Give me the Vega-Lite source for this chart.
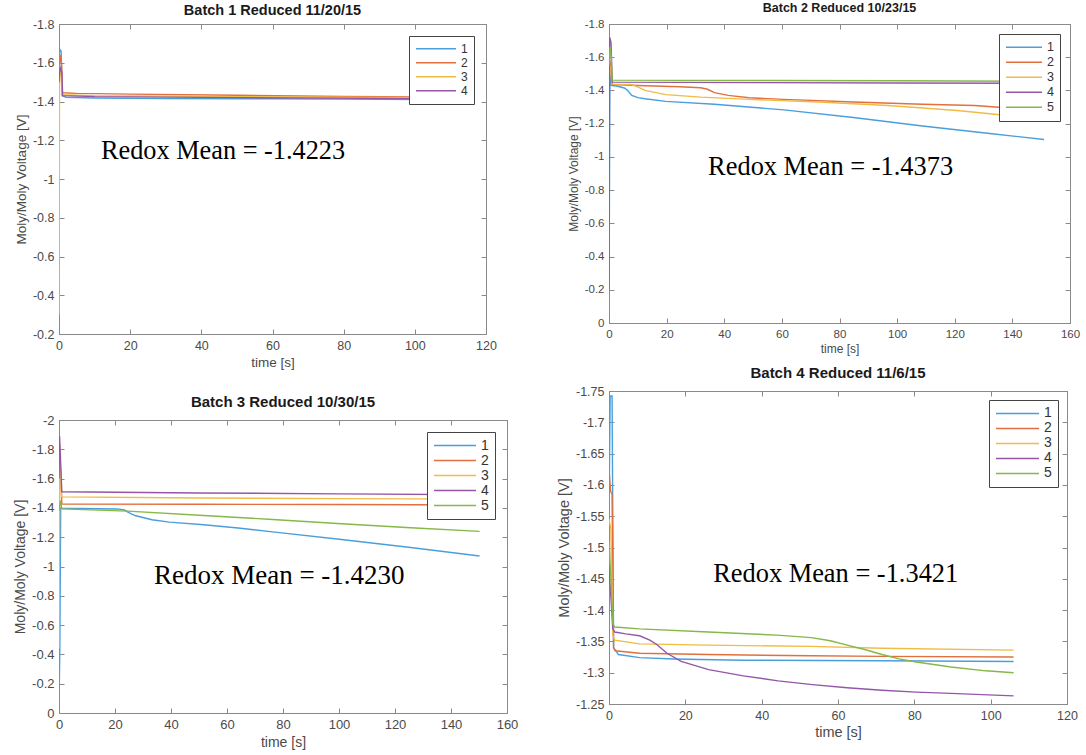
{
  "$schema": "https://vega.github.io/schema/vega-lite/v6.json",
  "background": "white",
  "padding": {"left": 13, "top": 1, "right": 0, "bottom": 0},
  "datasets": {
    "b1": [
      {"s": "1", "t": 0, "v": -1.62}, {"s": "1", "t": 0.2, "v": -1.67}, {"s": "1", "t": 0.6, "v": -1.66}, {"s": "1", "t": 0.9, "v": -1.43}, {"s": "1", "t": 2, "v": -1.422}, {"s": "1", "t": 10, "v": -1.418}, {"s": "1", "t": 30, "v": -1.415}, {"s": "1", "t": 60, "v": -1.414}, {"s": "1", "t": 80, "v": -1.412}, {"s": "1", "t": 101, "v": -1.41},
      {"s": "2", "t": 0, "v": -1.52}, {"s": "2", "t": 0.3, "v": -1.64}, {"s": "2", "t": 0.7, "v": -1.6}, {"s": "2", "t": 1, "v": -1.445}, {"s": "2", "t": 5, "v": -1.442}, {"s": "2", "t": 20, "v": -1.438}, {"s": "2", "t": 50, "v": -1.432}, {"s": "2", "t": 80, "v": -1.426}, {"s": "2", "t": 101, "v": -1.423},
      {"s": "3", "t": 0, "v": -0.3}, {"s": "3", "t": 0.15, "v": -1.58}, {"s": "3", "t": 0.5, "v": -1.56}, {"s": "3", "t": 0.9, "v": -1.435}, {"s": "3", "t": 10, "v": -1.43}, {"s": "3", "t": 50, "v": -1.425}, {"s": "3", "t": 101, "v": -1.42},
      {"s": "4", "t": 0, "v": -1.5}, {"s": "4", "t": 0.3, "v": -1.58}, {"s": "4", "t": 0.8, "v": -1.55}, {"s": "4", "t": 1, "v": -1.43}, {"s": "4", "t": 10, "v": -1.425}, {"s": "4", "t": 50, "v": -1.42}, {"s": "4", "t": 101, "v": -1.415}
    ],
    "b2": [
      {"s": "1", "t": 0, "v": -0.05}, {"s": "1", "t": 0.3, "v": -1.5}, {"s": "1", "t": 0.8, "v": -1.43}, {"s": "1", "t": 3, "v": -1.425}, {"s": "1", "t": 5.3, "v": -1.415}, {"s": "1", "t": 6.5, "v": -1.4}, {"s": "1", "t": 7.9, "v": -1.37}, {"s": "1", "t": 10, "v": -1.357}, {"s": "1", "t": 12.5, "v": -1.35}, {"s": "1", "t": 19.7, "v": -1.334}, {"s": "1", "t": 36.6, "v": -1.317}, {"s": "1", "t": 60.7, "v": -1.283}, {"s": "1", "t": 84.8, "v": -1.237}, {"s": "1", "t": 108.8, "v": -1.186}, {"s": "1", "t": 132.9, "v": -1.139}, {"s": "1", "t": 151, "v": -1.105},
      {"s": "2", "t": 0, "v": -1.45}, {"s": "2", "t": 0.3, "v": -1.58}, {"s": "2", "t": 0.8, "v": -1.5}, {"s": "2", "t": 1.2, "v": -1.436}, {"s": "2", "t": 12.5, "v": -1.428}, {"s": "2", "t": 24.6, "v": -1.422}, {"s": "2", "t": 31.8, "v": -1.416}, {"s": "2", "t": 34.2, "v": -1.407}, {"s": "2", "t": 36.6, "v": -1.387}, {"s": "2", "t": 41.4, "v": -1.37}, {"s": "2", "t": 48.6, "v": -1.356}, {"s": "2", "t": 60.7, "v": -1.346}, {"s": "2", "t": 84.8, "v": -1.33}, {"s": "2", "t": 108.8, "v": -1.317}, {"s": "2", "t": 126.9, "v": -1.309}, {"s": "2", "t": 136.5, "v": -1.297}, {"s": "2", "t": 151, "v": -1.285},
      {"s": "3", "t": 0, "v": -1.5}, {"s": "3", "t": 0.4, "v": -1.55}, {"s": "3", "t": 1, "v": -1.438}, {"s": "3", "t": 7.7, "v": -1.436}, {"s": "3", "t": 10.1, "v": -1.42}, {"s": "3", "t": 12.5, "v": -1.4}, {"s": "3", "t": 19.7, "v": -1.375}, {"s": "3", "t": 31.8, "v": -1.36}, {"s": "3", "t": 48.6, "v": -1.346}, {"s": "3", "t": 72.7, "v": -1.33}, {"s": "3", "t": 96.8, "v": -1.309}, {"s": "3", "t": 120.9, "v": -1.279}, {"s": "3", "t": 139, "v": -1.248}, {"s": "3", "t": 151, "v": -1.217},
      {"s": "4", "t": 0, "v": -0.2}, {"s": "4", "t": 0.2, "v": -1.72}, {"s": "4", "t": 0.7, "v": -1.69}, {"s": "4", "t": 1.1, "v": -1.45}, {"s": "4", "t": 50, "v": -1.447}, {"s": "4", "t": 100, "v": -1.445}, {"s": "4", "t": 151, "v": -1.443},
      {"s": "5", "t": 0, "v": -1.55}, {"s": "5", "t": 0.4, "v": -1.66}, {"s": "5", "t": 0.8, "v": -1.6}, {"s": "5", "t": 1.1, "v": -1.462}, {"s": "5", "t": 50, "v": -1.46}, {"s": "5", "t": 100, "v": -1.458}, {"s": "5", "t": 151, "v": -1.455}
    ],
    "b3": [
      {"s": "1", "t": 0, "v": -0.05}, {"s": "1", "t": 0.3, "v": -0.45}, {"s": "1", "t": 0.6, "v": -1.4}, {"s": "1", "t": 1, "v": -1.398}, {"s": "1", "t": 20.9, "v": -1.393}, {"s": "1", "t": 23.4, "v": -1.386}, {"s": "1", "t": 24.6, "v": -1.371}, {"s": "1", "t": 27.1, "v": -1.348}, {"s": "1", "t": 33.2, "v": -1.319}, {"s": "1", "t": 39.4, "v": -1.303}, {"s": "1", "t": 51.7, "v": -1.285}, {"s": "1", "t": 64, "v": -1.263}, {"s": "1", "t": 76.3, "v": -1.236}, {"s": "1", "t": 100.9, "v": -1.184}, {"s": "1", "t": 125.6, "v": -1.13}, {"s": "1", "t": 150.2, "v": -1.072},
      {"s": "2", "t": 0, "v": -1.5}, {"s": "2", "t": 0.3, "v": -1.75}, {"s": "2", "t": 0.7, "v": -1.6}, {"s": "2", "t": 1, "v": -1.427}, {"s": "2", "t": 50, "v": -1.425}, {"s": "2", "t": 100, "v": -1.423}, {"s": "2", "t": 151, "v": -1.42},
      {"s": "3", "t": 0, "v": -0.44}, {"s": "3", "t": 0.3, "v": -1.83}, {"s": "3", "t": 0.6, "v": -1.6}, {"s": "3", "t": 1, "v": -1.475}, {"s": "3", "t": 50, "v": -1.468}, {"s": "3", "t": 100, "v": -1.463}, {"s": "3", "t": 151, "v": -1.46},
      {"s": "4", "t": 0, "v": -1.6}, {"s": "4", "t": 0.2, "v": -1.89}, {"s": "4", "t": 0.6, "v": -1.7}, {"s": "4", "t": 1, "v": -1.51}, {"s": "4", "t": 50, "v": -1.502}, {"s": "4", "t": 100, "v": -1.496}, {"s": "4", "t": 151, "v": -1.49},
      {"s": "5", "t": 0, "v": -1.38}, {"s": "5", "t": 0.5, "v": -1.45}, {"s": "5", "t": 1, "v": -1.393}, {"s": "5", "t": 24.6, "v": -1.378}, {"s": "5", "t": 51.7, "v": -1.348}, {"s": "5", "t": 76.3, "v": -1.321}, {"s": "5", "t": 100.9, "v": -1.292}, {"s": "5", "t": 125.6, "v": -1.265}, {"s": "5", "t": 150.2, "v": -1.24}
    ],
    "b4": [
      {"s": "1", "t": 0, "v": -1.55}, {"s": "1", "t": 0.3, "v": -1.742}, {"s": "1", "t": 0.8, "v": -1.742}, {"s": "1", "t": 1.2, "v": -1.34}, {"s": "1", "t": 2.5, "v": -1.329}, {"s": "1", "t": 8, "v": -1.324}, {"s": "1", "t": 17, "v": -1.322}, {"s": "1", "t": 35, "v": -1.32}, {"s": "1", "t": 71.5, "v": -1.319}, {"s": "1", "t": 106, "v": -1.318},
      {"s": "2", "t": 0, "v": -1.627}, {"s": "2", "t": 0.4, "v": -1.59}, {"s": "2", "t": 0.8, "v": -1.585}, {"s": "2", "t": 1.2, "v": -1.34}, {"s": "2", "t": 1.6, "v": -1.335}, {"s": "2", "t": 8, "v": -1.331}, {"s": "2", "t": 26, "v": -1.329}, {"s": "2", "t": 53, "v": -1.327}, {"s": "2", "t": 71.5, "v": -1.326}, {"s": "2", "t": 106, "v": -1.325},
      {"s": "3", "t": 0, "v": -1.545}, {"s": "3", "t": 0.5, "v": -1.53}, {"s": "3", "t": 1, "v": -1.36}, {"s": "3", "t": 1.5, "v": -1.352}, {"s": "3", "t": 8, "v": -1.346}, {"s": "3", "t": 26, "v": -1.344}, {"s": "3", "t": 53, "v": -1.342}, {"s": "3", "t": 71.5, "v": -1.339}, {"s": "3", "t": 106, "v": -1.336},
      {"s": "4", "t": 0, "v": -1.47}, {"s": "4", "t": 0.5, "v": -1.42}, {"s": "4", "t": 1, "v": -1.37}, {"s": "4", "t": 1.5, "v": -1.365}, {"s": "4", "t": 4.4, "v": -1.362}, {"s": "4", "t": 8, "v": -1.359}, {"s": "4", "t": 10.7, "v": -1.352}, {"s": "4", "t": 12.5, "v": -1.345}, {"s": "4", "t": 15.2, "v": -1.331}, {"s": "4", "t": 18.9, "v": -1.318}, {"s": "4", "t": 26.1, "v": -1.305}, {"s": "4", "t": 35.2, "v": -1.295}, {"s": "4", "t": 44.3, "v": -1.287}, {"s": "4", "t": 53.3, "v": -1.281}, {"s": "4", "t": 62.4, "v": -1.276}, {"s": "4", "t": 71.5, "v": -1.272}, {"s": "4", "t": 80.5, "v": -1.269}, {"s": "4", "t": 89.6, "v": -1.267}, {"s": "4", "t": 106, "v": -1.263},
      {"s": "5", "t": 0, "v": -1.51}, {"s": "5", "t": 0.5, "v": -1.45}, {"s": "5", "t": 1, "v": -1.378}, {"s": "5", "t": 1.5, "v": -1.373}, {"s": "5", "t": 8, "v": -1.37}, {"s": "5", "t": 26, "v": -1.365}, {"s": "5", "t": 44, "v": -1.36}, {"s": "5", "t": 53, "v": -1.356}, {"s": "5", "t": 58, "v": -1.351}, {"s": "5", "t": 62.4, "v": -1.344}, {"s": "5", "t": 67, "v": -1.337}, {"s": "5", "t": 71.5, "v": -1.329}, {"s": "5", "t": 76, "v": -1.322}, {"s": "5", "t": 80.5, "v": -1.317}, {"s": "5", "t": 89.6, "v": -1.309}, {"s": "5", "t": 98.7, "v": -1.303}, {"s": "5", "t": 106, "v": -1.3}
    ]
  },
  "spacing": 37,
  "resolve": {"scale": {"color": "independent"}, "legend": {"color": "independent"}},
  "hconcat": [
    {
      "spacing": 24,
      "resolve": {"scale": {"color": "independent"}, "legend": {"color": "independent"}},
      "vconcat": [
        {
          "title": {"text": "Batch 1 Reduced 11/20/15", "fontSize": 14.5, "offset": 0},
          "width": 427, "height": 310,
          "layer": [
            {
              "data": {"name": "b1"},
              "mark": {"type": "line", "clip": true, "strokeWidth": 1.4},
              "encoding": {
                "x": {"field": "t", "type": "quantitative", "scale": {"domain": [0, 120], "nice": false, "zero": false},
                  "axis": {"orient": "bottom", "title": "time [s]", "values": [0, 20, 40, 60, 80, 100, 120], "format": "~f", "labelFontSize": 12.5, "titleFontSize": 13.5}},
                "y": {"field": "v", "type": "quantitative", "scale": {"domain": [-1.8, -0.2], "reverse": true, "nice": false, "zero": false},
                  "axis": {"orient": "left", "title": "Moly/Moly Voltage [V]", "values": [-1.8, -1.6, -1.4, -1.2, -1, -0.8, -0.6, -0.4, -0.2], "format": "~f", "labelExpr": "replace(datum.label, '\u2212', '-')", "labelFontSize": 12.5, "titleFontSize": 13.5}},
                "color": {"field": "s", "type": "nominal", "scale": {"domain": ["1", "2", "3", "4"], "range": ["#4A9FDB", "#E2703F", "#F0BC45", "#9556A8"]},
                  "legend": {"orient": "top-right", "offset": 12, "title": null, "symbolType": "stroke", "symbolSize": 1600, "symbolStrokeWidth": 1.5, "labelFontSize": 12, "clipHeight": 13.3, "rowPadding": 0, "padding": 6, "strokeColor": "#444444", "fillColor": "white", "labelColor": "#333333"}}
              }
            },
            {
              "data": {"values": [{"x": 11.8, "y": -1.103, "label": "Redox Mean = -1.4223"}]},
              "mark": {"type": "text", "font": "Liberation Serif", "fontSize": 26.3, "align": "left", "baseline": "alphabetic", "color": "#000000"},
              "encoding": {
                "x": {"field": "x", "type": "quantitative", "axis": {"orient": "top", "labels": false, "title": null, "values": [0, 20, 40, 60, 80, 100, 120]}},
                "y": {"field": "y", "type": "quantitative", "axis": {"orient": "right", "labels": false, "title": null, "values": [-1.8, -1.6, -1.4, -1.2, -1, -0.8, -0.6, -0.4, -0.2]}},
                "text": {"field": "label"}
              }
            }
          ],
          "resolve": {"axis": {"x": "independent", "y": "independent"}}
        },
        {
          "title": {"text": "Batch 3 Reduced 10/30/15", "fontSize": 15, "offset": 4},
          "width": 448, "height": 293,
          "layer": [
            {
              "data": {"name": "b3"},
              "mark": {"type": "line", "clip": true, "strokeWidth": 1.4},
              "encoding": {
                "x": {"field": "t", "type": "quantitative", "scale": {"domain": [0, 160], "nice": false, "zero": false},
                  "axis": {"orient": "bottom", "title": "time [s]", "values": [0, 20, 40, 60, 80, 100, 120, 140, 160], "format": "~f", "labelFontSize": 13, "titleFontSize": 14}},
                "y": {"field": "v", "type": "quantitative", "scale": {"domain": [-2, 0], "reverse": true, "nice": false, "zero": false},
                  "axis": {"orient": "left", "title": "Moly/Moly Voltage [V]", "values": [-2, -1.8, -1.6, -1.4, -1.2, -1, -0.8, -0.6, -0.4, -0.2, 0], "format": "~f", "labelExpr": "replace(datum.label, '\u2212', '-')", "labelFontSize": 13, "titleFontSize": 14}},
                "color": {"field": "s", "type": "nominal", "scale": {"domain": ["1", "2", "3", "4", "5"], "range": ["#4A9FDB", "#E2703F", "#F0BC45", "#9556A8", "#85B846"]},
                  "legend": {"orient": "top-right", "offset": 12, "title": null, "symbolType": "stroke", "symbolSize": 1760, "symbolStrokeWidth": 1.5, "labelFontSize": 14, "clipHeight": 15, "rowPadding": 0, "padding": 6, "strokeColor": "#444444", "fillColor": "white", "labelColor": "#333333"}}
              }
            },
            {
              "data": {"values": [{"x": 33.9, "y": -0.88, "label": "Redox Mean = -1.4230"}]},
              "mark": {"type": "text", "font": "Liberation Serif", "fontSize": 27, "align": "left", "baseline": "alphabetic", "color": "#000000"},
              "encoding": {
                "x": {"field": "x", "type": "quantitative", "axis": {"orient": "top", "labels": false, "title": null, "values": [0, 20, 40, 60, 80, 100, 120, 140, 160]}},
                "y": {"field": "y", "type": "quantitative", "axis": {"orient": "right", "labels": false, "title": null, "values": [-2, -1.8, -1.6, -1.4, -1.2, -1, -0.8, -0.6, -0.4, -0.2, 0]}},
                "text": {"field": "label"}
              }
            }
          ],
          "resolve": {"axis": {"x": "independent", "y": "independent"}}
        }
      ]
    },
    {
      "spacing": 10,
      "resolve": {"scale": {"color": "independent"}, "legend": {"color": "independent"}},
      "vconcat": [
        {
          "title": {"text": "Batch 2 Reduced 10/23/15", "fontSize": 12.5, "offset": 4},
          "width": 461, "height": 299,
          "layer": [
            {
              "data": {"name": "b2"},
              "mark": {"type": "line", "clip": true, "strokeWidth": 1.4},
              "encoding": {
                "x": {"field": "t", "type": "quantitative", "scale": {"domain": [0, 160], "nice": false, "zero": false},
                  "axis": {"orient": "bottom", "title": "time [s]", "values": [0, 20, 40, 60, 80, 100, 120, 140, 160], "format": "~f", "labelFontSize": 11.5, "titleFontSize": 12}},
                "y": {"field": "v", "type": "quantitative", "scale": {"domain": [-1.8, 0], "reverse": true, "nice": false, "zero": false},
                  "axis": {"orient": "left", "title": "Moly/Moly Voltage [V]", "values": [-1.8, -1.6, -1.4, -1.2, -1, -0.8, -0.6, -0.4, -0.2, 0], "format": "~f", "labelExpr": "replace(datum.label, '\u2212', '-')", "labelFontSize": 11.5, "titleFontSize": 12}},
                "color": {"field": "s", "type": "nominal", "scale": {"domain": ["1", "2", "3", "4", "5"], "range": ["#4A9FDB", "#E2703F", "#F0BC45", "#9556A8", "#85B846"]},
                  "legend": {"orient": "top-right", "offset": 10, "title": null, "symbolType": "stroke", "symbolSize": 1300, "symbolStrokeWidth": 1.5, "labelFontSize": 12.5, "clipHeight": 14.5, "rowPadding": 0, "padding": 6, "strokeColor": "#444444", "fillColor": "white", "labelColor": "#333333"}}
              }
            },
            {
              "data": {"values": [{"x": 34.4, "y": -0.891, "label": "Redox Mean = -1.4373"}]},
              "mark": {"type": "text", "font": "Liberation Serif", "fontSize": 26.4, "align": "left", "baseline": "alphabetic", "color": "#000000"},
              "encoding": {
                "x": {"field": "x", "type": "quantitative", "axis": {"orient": "top", "labels": false, "title": null, "values": [0, 20, 40, 60, 80, 100, 120, 140, 160]}},
                "y": {"field": "y", "type": "quantitative", "axis": {"orient": "right", "labels": false, "title": null, "values": [-1.8, -1.6, -1.4, -1.2, -1, -0.8, -0.6, -0.4, -0.2, 0]}},
                "text": {"field": "label"}
              }
            }
          ],
          "resolve": {"axis": {"x": "independent", "y": "independent"}}
        },
        {
          "title": {"text": "Batch 4 Reduced 11/6/15", "fontSize": 15, "offset": 4},
          "width": 458, "height": 313,
          "layer": [
            {
              "data": {"name": "b4"},
              "mark": {"type": "line", "clip": true, "strokeWidth": 1.4},
              "encoding": {
                "x": {"field": "t", "type": "quantitative", "scale": {"domain": [0, 120], "nice": false, "zero": false},
                  "axis": {"orient": "bottom", "title": "time [s]", "values": [0, 20, 40, 60, 80, 100, 120], "format": "~f", "labelFontSize": 12.5, "titleFontSize": 14.5}},
                "y": {"field": "v", "type": "quantitative", "scale": {"domain": [-1.75, -1.25], "reverse": true, "nice": false, "zero": false},
                  "axis": {"orient": "left", "title": "Moly/Moly Voltage [V]", "values": [-1.75, -1.7, -1.65, -1.6, -1.55, -1.5, -1.45, -1.4, -1.35, -1.3, -1.25], "format": "~f", "labelExpr": "replace(datum.label, '\u2212', '-')", "labelFontSize": 12.5, "titleFontSize": 14.5}},
                "color": {"field": "s", "type": "nominal", "scale": {"domain": ["1", "2", "3", "4", "5"], "range": ["#4A9FDB", "#E2703F", "#F0BC45", "#9556A8", "#85B846"]},
                  "legend": {"orient": "top-right", "offset": 9, "title": null, "symbolType": "stroke", "symbolSize": 1850, "symbolStrokeWidth": 1.5, "labelFontSize": 14, "clipHeight": 14.8, "rowPadding": 0, "padding": 6, "strokeColor": "#444444", "fillColor": "white", "labelColor": "#333333"}}
              }
            },
            {
              "data": {"values": [{"x": 27.3, "y": -1.445, "label": "Redox Mean = -1.3421"}]},
              "mark": {"type": "text", "font": "Liberation Serif", "fontSize": 26.4, "align": "left", "baseline": "alphabetic", "color": "#000000"},
              "encoding": {
                "x": {"field": "x", "type": "quantitative", "axis": {"orient": "top", "labels": false, "title": null, "values": [0, 20, 40, 60, 80, 100, 120]}},
                "y": {"field": "y", "type": "quantitative", "axis": {"orient": "right", "labels": false, "title": null, "values": [-1.75, -1.7, -1.65, -1.6, -1.55, -1.5, -1.45, -1.4, -1.35, -1.3, -1.25]}},
                "text": {"field": "label"}
              }
            }
          ],
          "resolve": {"axis": {"x": "independent", "y": "independent"}}
        }
      ]
    }
  ],
  "config": {
    "font": "Liberation Sans",
    "view": {"stroke": "#8a8a8a", "strokeWidth": 1},
    "axis": {"grid": false, "domainColor": "#8a8a8a", "tickColor": "#8a8a8a", "labelColor": "#4a4a4a", "titleColor": "#4a4a4a", "titleFontWeight": "normal", "labelFont": "Liberation Sans", "titleFont": "Liberation Sans", "tickSize": -5, "labelPadding": 10, "titlePadding": 4, "labelFlush": false, "labelOverlap": false},
    "title": {"font": "Liberation Sans", "fontWeight": "bold", "color": "#1a1a1a"},
    "legend": {"labelFont": "Liberation Sans"}
  }
}
